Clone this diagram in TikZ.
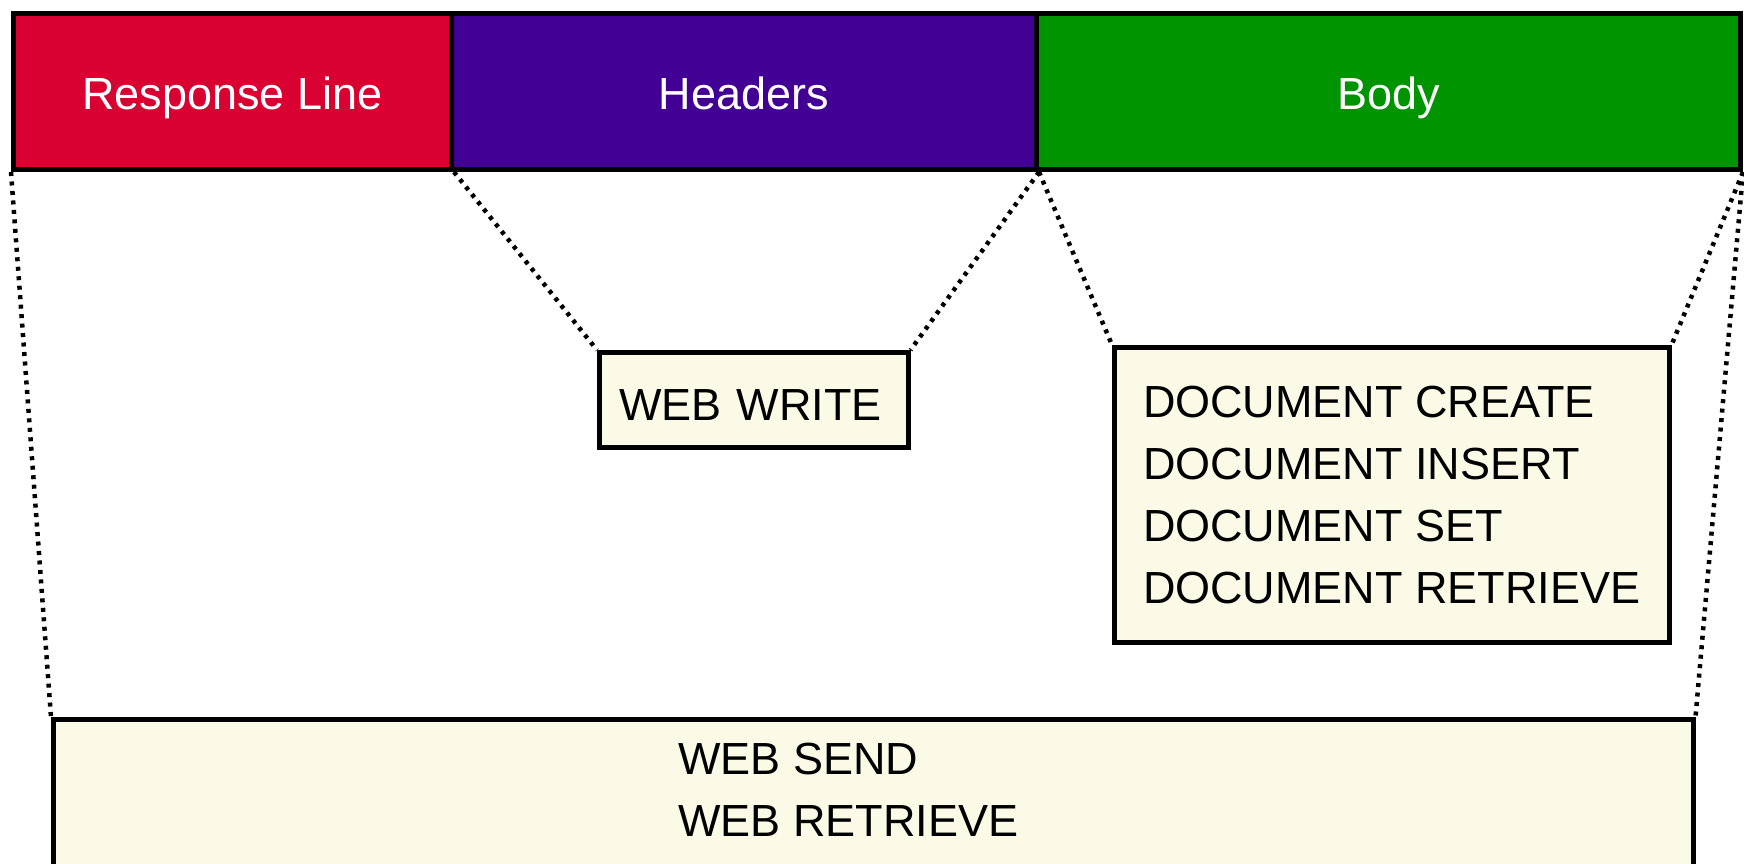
\documentclass[tikz,border=0pt]{standalone}
\usepackage{fontspec}
\setmainfont{Liberation Sans}
\definecolor{rlred}{RGB}{217,0,50}
\definecolor{hdpurple}{RGB}{66,0,148}
\definecolor{bdgreen}{RGB}{0,148,0}
\definecolor{cream}{RGB}{250,250,230}
\begin{document}
\begin{tikzpicture}[x=1pt,y=-1pt,
  every node/.style={font=\fontsize{45}{62}\selectfont},
  barbox/.style={draw=black, line width=5pt, minimum height=156pt, inner sep=0pt, anchor=north west, text=white, text height=36pt, text depth=0pt},
  cmdbox/.style={draw=black, line width=4.5pt, fill=cream, inner sep=0pt, anchor=north west},
  dotline/.style={line width=4.5pt, dash pattern=on 4pt off 5.5pt, black}]
\useasboundingbox (0,0) rectangle (1744,863);
% top bar
\node[barbox, fill=rlred, minimum width=438pt] (red) at (11,11) {Response Line};
\node[barbox, fill=hdpurple, minimum width=585pt] (purple) at (449,11) {Headers};
\node[barbox, fill=bdgreen, minimum width=704pt] (green) at (1034,11) {Body};
% boxes
\node[cmdbox, minimum width=309pt, minimum height=95pt, text width=269pt, inner xsep=20pt, align=left, text height=41pt, text depth=0pt] (write) at (597,350) {WEB WRITE};
\node[cmdbox, minimum width=555pt, minimum height=295pt, align=left] (doc) at (1112,345) {DOCUMENT CREATE\\DOCUMENT INSERT\\DOCUMENT SET\\DOCUMENT RETRIEVE};
\node[cmdbox, minimum width=1640pt, minimum height=148pt] (send) at (51,717) {};
\node[anchor=west, align=left, inner sep=0pt] (sendtxt) at (678,790) {WEB SEND\\WEB RETRIEVE};
% connectors
\draw[dotline] (red.south west) -- (send.north west);
\draw[dotline] (red.south east) -- (write.north west);
\draw[dotline] (purple.south east) -- (write.north east);
\draw[dotline] (purple.south east) -- (doc.north west);
\draw[dotline] (green.south east) -- (doc.north east);
\draw[dotline] (green.south east) -- (send.north east);
\end{tikzpicture}
\end{document}
